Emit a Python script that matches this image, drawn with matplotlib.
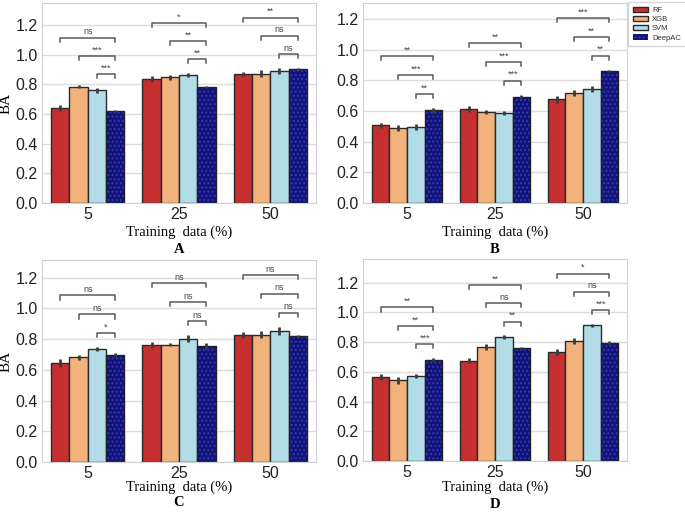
import numpy as np
import matplotlib
matplotlib.use('Agg')
import matplotlib.pyplot as plt

models = ['RF', 'XGB', 'SVM', 'DeepAC']
train_pct = ['5', '25', '50']
colors = ['#c62f30', '#f2b27b', '#b2dce8', '#10127f']

# balanced accuracy, rows = models, columns = training size
ba_A = [[0.641, 0.834, 0.867], [0.784, 0.847, 0.872], [0.758, 0.863, 0.889], [0.621, 0.782, 0.905]]
err_A = [[0.020, 0.020, 0.012], [0.012, 0.018, 0.022], [0.018, 0.012, 0.020], [0.008, 0.008, 0.006]]
sig_A = [['ns', '***', '***'], ['*', '**', '**'], ['**', 'ns', 'ns']]

ba_B = [[0.508, 0.616, 0.678], [0.490, 0.594, 0.719], [0.497, 0.587, 0.743], [0.605, 0.695, 0.864]]
err_B = [[0.015, 0.020, 0.022], [0.018, 0.012, 0.022], [0.020, 0.015, 0.018], [0.015, 0.012, 0.006]]
sig_B = [['**', '***', '**'], ['**', '***', '***'], ['***', '**', '**']]

ba_C = [[0.644, 0.760, 0.827], [0.681, 0.764, 0.830], [0.734, 0.803, 0.854], [0.699, 0.755, 0.819]]
err_C = [[0.025, 0.018, 0.020], [0.015, 0.012, 0.020], [0.012, 0.022, 0.025], [0.008, 0.018, 0.008]]
sig_C = [['ns', 'ns', '*'], ['ns', 'ns', 'ns'], ['ns', 'ns', 'ns']]

ba_D = [[0.562, 0.675, 0.734], [0.542, 0.767, 0.806], [0.571, 0.833, 0.912], [0.682, 0.758, 0.795]]
err_D = [[0.020, 0.018, 0.020], [0.022, 0.018, 0.020], [0.012, 0.012, 0.010], [0.012, 0.008, 0.010]]
sig_D = [['**', '**', '***'], ['**', 'ns', '**'], ['*', 'ns', '***']]

plt.rcParams['font.family'] = 'Liberation Sans'

W, H = 685, 514
fig = plt.figure(figsize=(W / 100, H / 100), dpi=100)


def px_axes(left, top, right, bottom):
    return fig.add_axes([left / W, 1 - bottom / H, (right - left) / W, (bottom - top) / H])


def panel(ax, ba, err, sig, letter, ylabel, lab_off, let_off):
    ba = np.array(ba)
    err = np.array(err)
    x = np.arange(len(train_pct))
    w = 0.2
    for i, m in enumerate(models):
        xs = x + (i - 1.5) * w
        if m == 'DeepAC':
            ax.bar(xs, ba[i], w, color=colors[i], edgecolor='#3a3c9a', hatch='....',
                   linewidth=0, zorder=2, label=m)
            ax.bar(xs, ba[i], w, fill=False, edgecolor='#222222', linewidth=1, zorder=2)
        else:
            ax.bar(xs, ba[i], w, color=colors[i], edgecolor='#2a2a2a', linewidth=1,
                   zorder=2, label=m)
        ax.errorbar(xs, ba[i], yerr=err[i], fmt='none', ecolor='#3c3c3c', elinewidth=2,
                    capsize=0, zorder=3)

    # significance brackets: each model vs DeepAC
    offset, step, tick = 0.092, 0.123, 0.027
    top_level = 0
    for g in range(len(train_pct)):
        level = None
        for i in [2, 1, 0]:
            y = max(ba[k][g] + err[k][g] for k in range(i, 4)) + offset
            if level is not None:
                y = max(y, level + step)
            level = y
            x1 = g + (i - 1.5) * w
            x2 = g + 1.5 * w
            ax.plot([x1, x1, x2, x2], [y - tick, y, y, y - tick], color='#5a5a5a', lw=1.1,
                    zorder=4, clip_on=False)
            ax.text((x1 + x2) / 2, y + 0.01, sig[g][i], ha='center', va='bottom',
                    fontsize=6.5, color='#444444')
        top_level = max(top_level, level)

    ax.set_xlim(-0.5, 2.5)
    ax.set_ylim(0, top_level + 0.098)
    ax.set_yticks(np.arange(0, 1.21, 0.2))
    ax.set_yticklabels(['%.1f' % v for v in np.arange(0, 1.21, 0.2)], fontsize=11.5, color='#222222')
    ax.set_xticks(x)
    ax.set_xticklabels(train_pct, fontsize=11.5, color='#222222')
    ax.tick_params(length=0, pad=3)
    ax.grid(axis='y', color='#dddddd', lw=1, zorder=0)
    ax.set_axisbelow(True)
    for s in ax.spines.values():
        s.set_color('#d0d0d0')
    ax.annotate('Training  data (%)', xy=(0.5, 0), xycoords='axes fraction',
                xytext=(0, -lab_off * 0.72), textcoords='offset points', ha='center',
                va='center', fontsize=10.5, family='Liberation Serif')
    ax.annotate(letter, xy=(0.5, 0), xycoords='axes fraction',
                xytext=(0, -let_off * 0.72), textcoords='offset points', ha='center',
                va='center', fontsize=10.5, family='Liberation Serif', fontweight='bold')
    if ylabel:
        ax.set_ylabel('BA', fontsize=11, family='Liberation Serif')
        ax.yaxis.set_label_coords(-0.106, 0.5)


axA = px_axes(42, 3, 316, 203)
axB = px_axes(363, 3, 627, 203)
axC = px_axes(42, 260, 316, 462)
axD = px_axes(363, 259, 627, 461)

panel(axA, ba_A, err_A, sig_A, 'A', True, 29, 47)
panel(axB, ba_B, err_B, sig_B, 'B', False, 29, 47)
panel(axC, ba_C, err_C, sig_C, 'C', True, 25, 41)
panel(axD, ba_D, err_D, sig_D, 'D', False, 26, 43)

handles, labels = axB.get_legend_handles_labels()
leg = fig.legend(handles, labels, loc='upper left', bbox_to_anchor=(628 / W, 1 - 2 / H),
                 fontsize=5.5, frameon=True, fancybox=False, edgecolor='#cccccc',
                 handlelength=2.0, handleheight=0.7, borderpad=0.6, labelspacing=0.25,
                 handletextpad=0.55, borderaxespad=0)
for t in leg.get_texts():
    t.set_color('#333333')

fig.savefig('out.png', dpi=100)
